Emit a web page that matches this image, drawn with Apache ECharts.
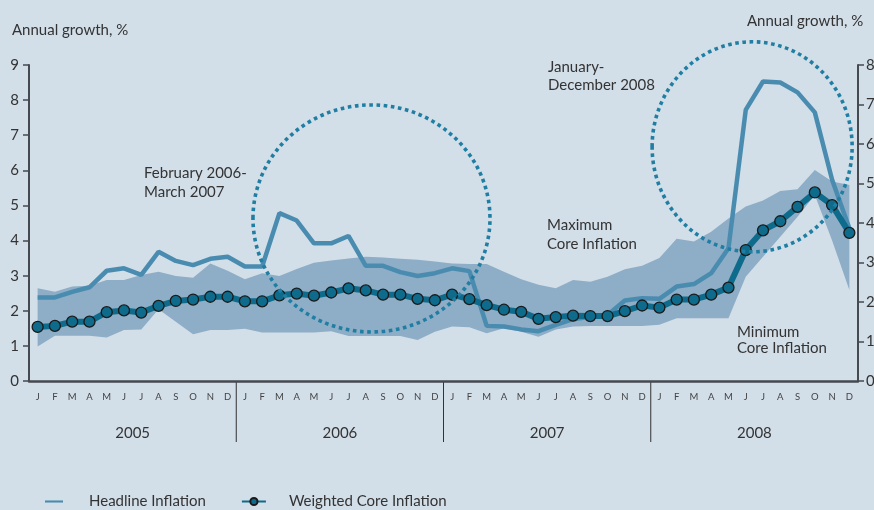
<!DOCTYPE html>
<html>
<head>
<meta charset="utf-8">
<script src="https://cdn.jsdelivr.net/npm/echarts@6/dist/echarts.min.js"></script>
<style>
  html, body { margin: 0; padding: 0; background: #d2dee8; }
  #main { width: 874px; height: 510px; }
</style>
</head>
<body>
<div id="main"></div>
<script>
// tick labels
var monthLetters = ["J", "F", "M", "A", "M", "J", "J", "A", "S", "O", "N", "D"];
var years = ["2005", "2006", "2007", "2008"];

// annual growth, % (Jan 2005 - Dec 2008)
var headline = [
  2.38, 2.38, 2.54, 2.67, 3.14, 3.21, 3.02, 3.68, 3.42, 3.30, 3.48, 3.54,
  3.26, 3.26, 4.78, 4.57, 3.92, 3.92, 4.13, 3.28, 3.28, 3.10, 2.99, 3.07,
  3.21, 3.13, 1.57, 1.55, 1.47, 1.42, 1.60, 1.76, 1.83, 1.88, 2.29, 2.36,
  2.34, 2.69, 2.76, 3.07, 3.78, 7.72, 8.53, 8.50, 8.22, 7.65, 5.73, 4.35
];
var weightedCore = [
  1.54, 1.57, 1.69, 1.69, 1.96, 2.01, 1.95, 2.14, 2.28, 2.32, 2.40, 2.40,
  2.27, 2.27, 2.44, 2.49, 2.43, 2.52, 2.64, 2.58, 2.46, 2.46, 2.34, 2.30,
  2.46, 2.33, 2.16, 2.03, 1.97, 1.77, 1.82, 1.86, 1.85, 1.85, 1.99, 2.15,
  2.09, 2.32, 2.32, 2.46, 2.66, 3.73, 4.29, 4.55, 4.96, 5.37, 5.01, 4.22
];
var coreMax = [
  2.64, 2.54, 2.69, 2.71, 2.88, 2.88, 3.02, 3.11, 2.99, 2.94, 3.35, 3.14,
  2.90, 3.07, 2.99, 3.19, 3.37, 3.43, 3.49, 3.54, 3.52, 3.48, 3.45, 3.40,
  3.35, 3.33, 3.33, 3.11, 2.90, 2.74, 2.64, 2.88, 2.83, 2.97, 3.18, 3.28,
  3.50, 4.05, 3.97, 4.25, 4.63, 4.97, 5.14, 5.41, 5.46, 6.01, 5.68, 5.58
];
var coreMin = [
  0.98, 1.29, 1.29, 1.29, 1.24, 1.45, 1.47, 2.04, 1.69, 1.33, 1.45, 1.45,
  1.49, 1.38, 1.38, 1.38, 1.38, 1.42, 1.28, 1.28, 1.28, 1.28, 1.17, 1.40,
  1.55, 1.53, 1.36, 1.50, 1.40, 1.26, 1.47, 1.55, 1.57, 1.57, 1.57, 1.57,
  1.60, 1.79, 1.79, 1.79, 1.79, 2.97, 3.54, 4.11, 4.68, 5.30, 4.00, 2.59
];

var months = [];
years.forEach(function () {
  monthLetters.forEach(function (m) { months.push(m); });
});
var bandRange = coreMax.map(function (v, i) { return +(v - coreMin[i]).toFixed(2); });

var FONT = "Lato";
var TXT = "#333333";
var AXIS = "#454a50";

var chart = echarts.init(document.getElementById("main"));

var option = {
  backgroundColor: "#d2dee8",
  animation: false,
  grid: { left: 29, right: 16, top: 65, bottom: 129, containLabel: false, outerBoundsMode: "none" },
  legend: {
    data: [
      { name: "Headline Inflation", icon: "path://M0,0M24,12M0,4.6L24,4.6L24,7.4L0,7.4Z" },
      { name: "Weighted Core Inflation" }
    ],
    left: 45,
    top: 494,
    padding: 0,
    itemWidth: 24,
    itemHeight: 9,
    itemGap: 35,
    textStyle: { fontFamily: FONT, fontSize: 15, color: TXT, padding: [0, 0, 0, 18] }
  },
  xAxis: [
    {
      type: "category",
      data: months,
      boundaryGap: true,
      axisLine: { show: true, lineStyle: { color: AXIS, width: 2.5 } },
      axisTick: { show: false },
      axisLabel: { interval: 0, fontFamily: FONT, fontSize: 9.5, color: "#444", margin: 11 },
      splitLine: { show: false }
    },
    {
      type: "category",
      data: years,
      position: "bottom",
      boundaryGap: true,
      axisLine: { show: false },
      axisTick: { show: false },
      axisLabel: { fontFamily: FONT, fontSize: 15, color: TXT, margin: 45 },
      splitLine: { show: false }
    }
  ],
  yAxis: [
    {
      type: "value",
      min: 0, max: 9, interval: 1,
      axisLine: { show: true, lineStyle: { color: AXIS, width: 2 } },
      axisTick: { show: true, length: 6, lineStyle: { color: AXIS, width: 1.5 } },
      axisLabel: { fontFamily: FONT, fontSize: 15, color: TXT, margin: 10 },
      splitLine: { show: false }
    },
    {
      type: "value",
      position: "right",
      min: 0, max: 8, interval: 1,
      axisLine: { show: true, lineStyle: { color: AXIS, width: 2 } },
      axisTick: { show: true, length: 6, lineStyle: { color: AXIS, width: 1.5 } },
      axisLabel: { fontFamily: FONT, fontSize: 15, color: TXT, margin: 8 },
      splitLine: { show: false }
    }
  ],
  series: [
    {
      name: "Minimum Core Inflation",
      type: "line",
      stack: "band",
      data: coreMin,
      symbol: "none",
      silent: true,
      lineStyle: { opacity: 0 },
      z: 1
    },
    {
      name: "Maximum Core Inflation",
      type: "line",
      stack: "band",
      data: bandRange,
      symbol: "none",
      silent: true,
      lineStyle: { opacity: 0 },
      areaStyle: { color: "#8eadc6", opacity: 1 },
      z: 1
    },
    {
      name: "Headline Inflation",
      type: "line",
      data: headline,
      symbol: "none",
      color: "#4a8cb0",
      lineStyle: { color: "#4a8cb0", width: 4.5 },
      z: 3
    },
    {
      name: "Weighted Core Inflation",
      type: "line",
      data: weightedCore,
      symbol: "circle",
      symbolSize: 11,
      showAllSymbol: true,
      color: "#0e6b8b",
      lineStyle: { color: "#0e6b8b", width: 6 },
      itemStyle: { color: "#0e6b8b", borderColor: "#1a1a1a", borderWidth: 1.3 },
      z: 4
    }
  ]
};

chart.setOption(option);

// pixel position for a (possibly fractional) month index and value on the left axis
function px(idx, val) {
  var i0 = Math.floor(idx), i1 = Math.min(i0 + 1, months.length - 1);
  var a = chart.convertToPixel({ xAxisIndex: 0, yAxisIndex: 0 }, [i0, val]);
  var b = chart.convertToPixel({ xAxisIndex: 0, yAxisIndex: 0 }, [i1, val]);
  var t = idx - i0;
  return [a[0] + (b[0] - a[0]) * t, a[1]];
}

var textStyle = function (text, lh) {
  return { text: text, font: "15px " + FONT, fill: TXT, lineHeight: lh, verticalAlign: "top" };
};

var graphics = [];

// year separators below the month axis
[11.5, 23.5, 35.5].forEach(function (idx) {
  var p = px(idx, 0);
  graphics.push({
    type: "line", silent: true,
    shape: { x1: p[0], y1: p[1], x2: p[0], y2: p[1] + 61 },
    style: { stroke: "#333", lineWidth: 1 }
  });
});

// dotted ellipses around the two periods
var c1 = px(19.33, 4.63);
var c2 = px(41.37, 6.67);
[[c1, 118.5, 113.5], [c2, 100, 105]].forEach(function (e) {
  graphics.push({
    type: "ellipse", silent: true, z: 10,
    shape: { cx: e[0][0], cy: e[0][1], rx: e[1], ry: e[2] },
    style: { fill: "none", stroke: "#1f7ea2", lineWidth: 3.6, lineDash: [3.6, 3.6] }
  });
});

graphics.push(
  { type: "text", x: 12, y: 21, style: textStyle("Annual growth, %", 18) },
  { type: "text", x: 747, y: 12, style: textStyle("Annual growth, %", 18) },
  { type: "text", x: 144, y: 163.5, style: textStyle("February 2006-\nMarch 2007", 19) },
  { type: "text", x: 548, y: 58, style: textStyle("January-\nDecember 2008", 18) },
  { type: "text", x: 547, y: 215.5, style: textStyle("Maximum\nCore Inflation", 19) },
  { type: "text", x: 737, y: 324, style: textStyle("Minimum\nCore Inflation", 16) }
);

chart.setOption({ graphic: graphics });
</script>
</body>
</html>
